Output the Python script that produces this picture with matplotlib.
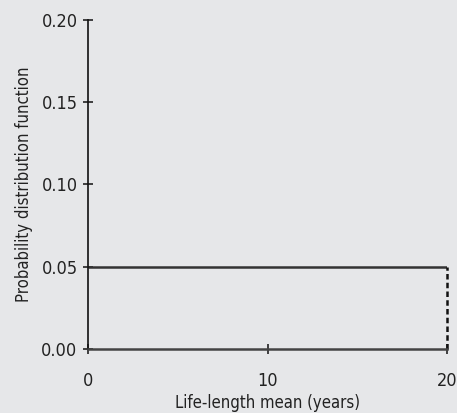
import matplotlib
matplotlib.use('Agg')
import matplotlib.pyplot as plt

# uniform distribution of life-length mean
x_support = [0, 20]
density = [0.05, 0.05]
x_ticks = [0, 10, 20]
y_ticks = [0.00, 0.05, 0.10, 0.15, 0.20]

plt.rcParams['font.family'] = ['DejaVu Sans']
plt.rcParams['font.stretch'] = 'condensed'
bg = '#e6e7e9'

fig = plt.figure(figsize=(4.57, 4.13), dpi=100, facecolor=bg)
ax = fig.add_axes([0.1926, 0.155, 0.7855, 0.7966], facecolor=bg)

ax.plot(x_support, density, color='#333333', linewidth=1.8, solid_capstyle='butt')
ax.plot([x_support[1], x_support[1]], [0, density[1]], color='#111111',
        linewidth=1.8, linestyle=(0, (2.2, 1.3)), clip_on=False)

ax.set_xlim(0, 20)
ax.set_ylim(0, 0.20)
ax.set_xticks(x_ticks)
ax.set_yticks(y_ticks)
ax.set_xticklabels([str(v) for v in x_ticks])
ax.set_yticklabels(['%.2f' % v for v in y_ticks])

for s in ['top', 'right']:
    ax.spines[s].set_visible(False)
ax.spines['left'].set_color('#111111')
ax.spines['bottom'].set_color('#444444')
ax.spines['left'].set_linewidth(1.2)
ax.spines['bottom'].set_linewidth(1.8)

ax.tick_params(axis='y', direction='inout', length=7, width=1.2, pad=4,
               labelsize=13, colors='#222222')
ax.tick_params(axis='x', direction='inout', length=7, width=1.2, pad=13,
               labelsize=13, colors='#222222')

ax.set_xlabel('Life-length mean (years)', fontsize=12, color='#222222', labelpad=3)
ax.set_ylabel('Probability distribution function', fontsize=12, color='#222222', labelpad=6)

fig.savefig('out.png', dpi=100, facecolor=bg)
